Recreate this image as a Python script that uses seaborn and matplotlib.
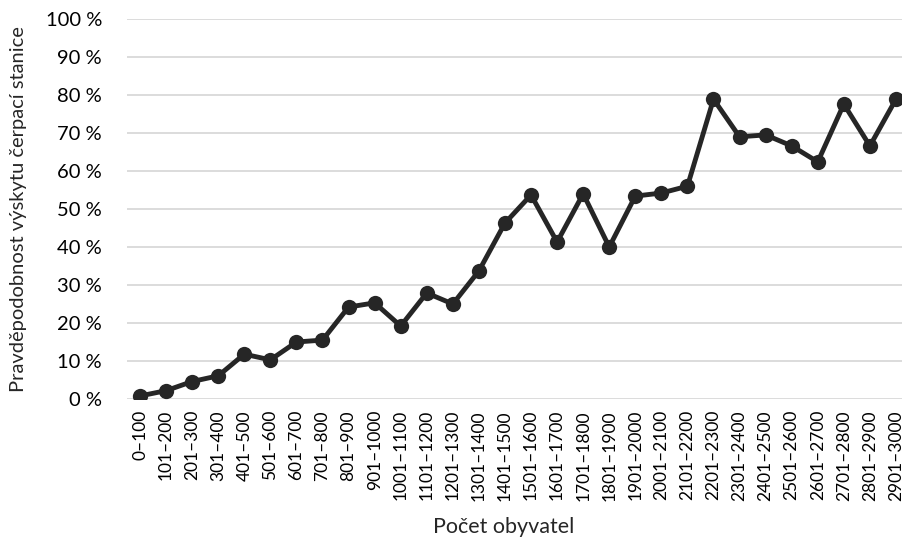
import pandas as pd
import matplotlib
matplotlib.use("Agg")
import matplotlib.pyplot as plt
import seaborn as sns

categories = ["0–100", "101–200", "201–300", "301–400", "401–500", "501–600",
              "601–700", "701–800", "801–900", "901–1000", "1001–1100", "1101–1200",
              "1201–1300", "1301–1400", "1401–1500", "1501–1600", "1601–1700",
              "1701–1800", "1801–1900", "1901–2000", "2001–2100", "2101–2200",
              "2201–2300", "2301–2400", "2401–2500", "2501–2600", "2601–2700",
              "2701–2800", "2801–2900", "2901–3000"]
probability = [0.8, 2.2, 4.6, 6.1, 11.8, 10.3, 15.0, 15.5, 24.2, 25.3, 19.2, 27.9,
               25.0, 33.7, 46.3, 53.7, 41.3, 54.0, 40.0, 53.4, 54.2, 56.0,
               78.9, 69.0, 69.5, 66.6, 62.4, 77.6, 66.6, 78.9]
y_ticks = [0, 10, 20, 30, 40, 50, 60, 70, 80, 90, 100]

df = pd.DataFrame({"skupina": categories, "p": probability})
df["pos"] = range(len(df))

sns.set_style("white")
plt.rcParams["font.family"] = ["Lato", "DejaVu Sans"]

fig = plt.figure(figsize=(9.03, 5.43), dpi=100)
ax = fig.add_axes([127 / 903, 1 - 399 / 543, 782 / 903, 380 / 543])

sns.lineplot(data=df, x="pos", y="p", ax=ax, color="#262626", linewidth=3.5,
             marker="o", markersize=11, markeredgewidth=0, zorder=3)

ax.set_xlim(-0.5, 29.5)
ax.set_ylim(0, 100)
ax.set_yticks(y_ticks)
ax.set_yticklabels([f"{t} %" for t in y_ticks], fontsize=14.5)
ax.set_xticks(range(len(categories)))
ax.set_xticklabels(categories, rotation=90, fontsize=12.5)
ax.tick_params(axis="both", length=0, colors="#000000")
ax.tick_params(axis="x", pad=8)
ax.tick_params(axis="y", pad=18)
ax.grid(axis="y", color="#d9d9d9", linewidth=1.3)
ax.set_axisbelow(True)
for s in ax.spines.values():
    s.set_visible(False)

ax.set_xlabel("")
ax.set_ylabel("Pravděpodobnost výskytu čerpací stanice", fontsize=14.5)
ax.yaxis.set_label_coords(-100 / 782, 0.5)
fig.text(504 / 903, 1 - 527 / 543, "Počet obyvatel", fontsize=15.5, ha="center", va="center")

fig.savefig("out.png", dpi=100)
